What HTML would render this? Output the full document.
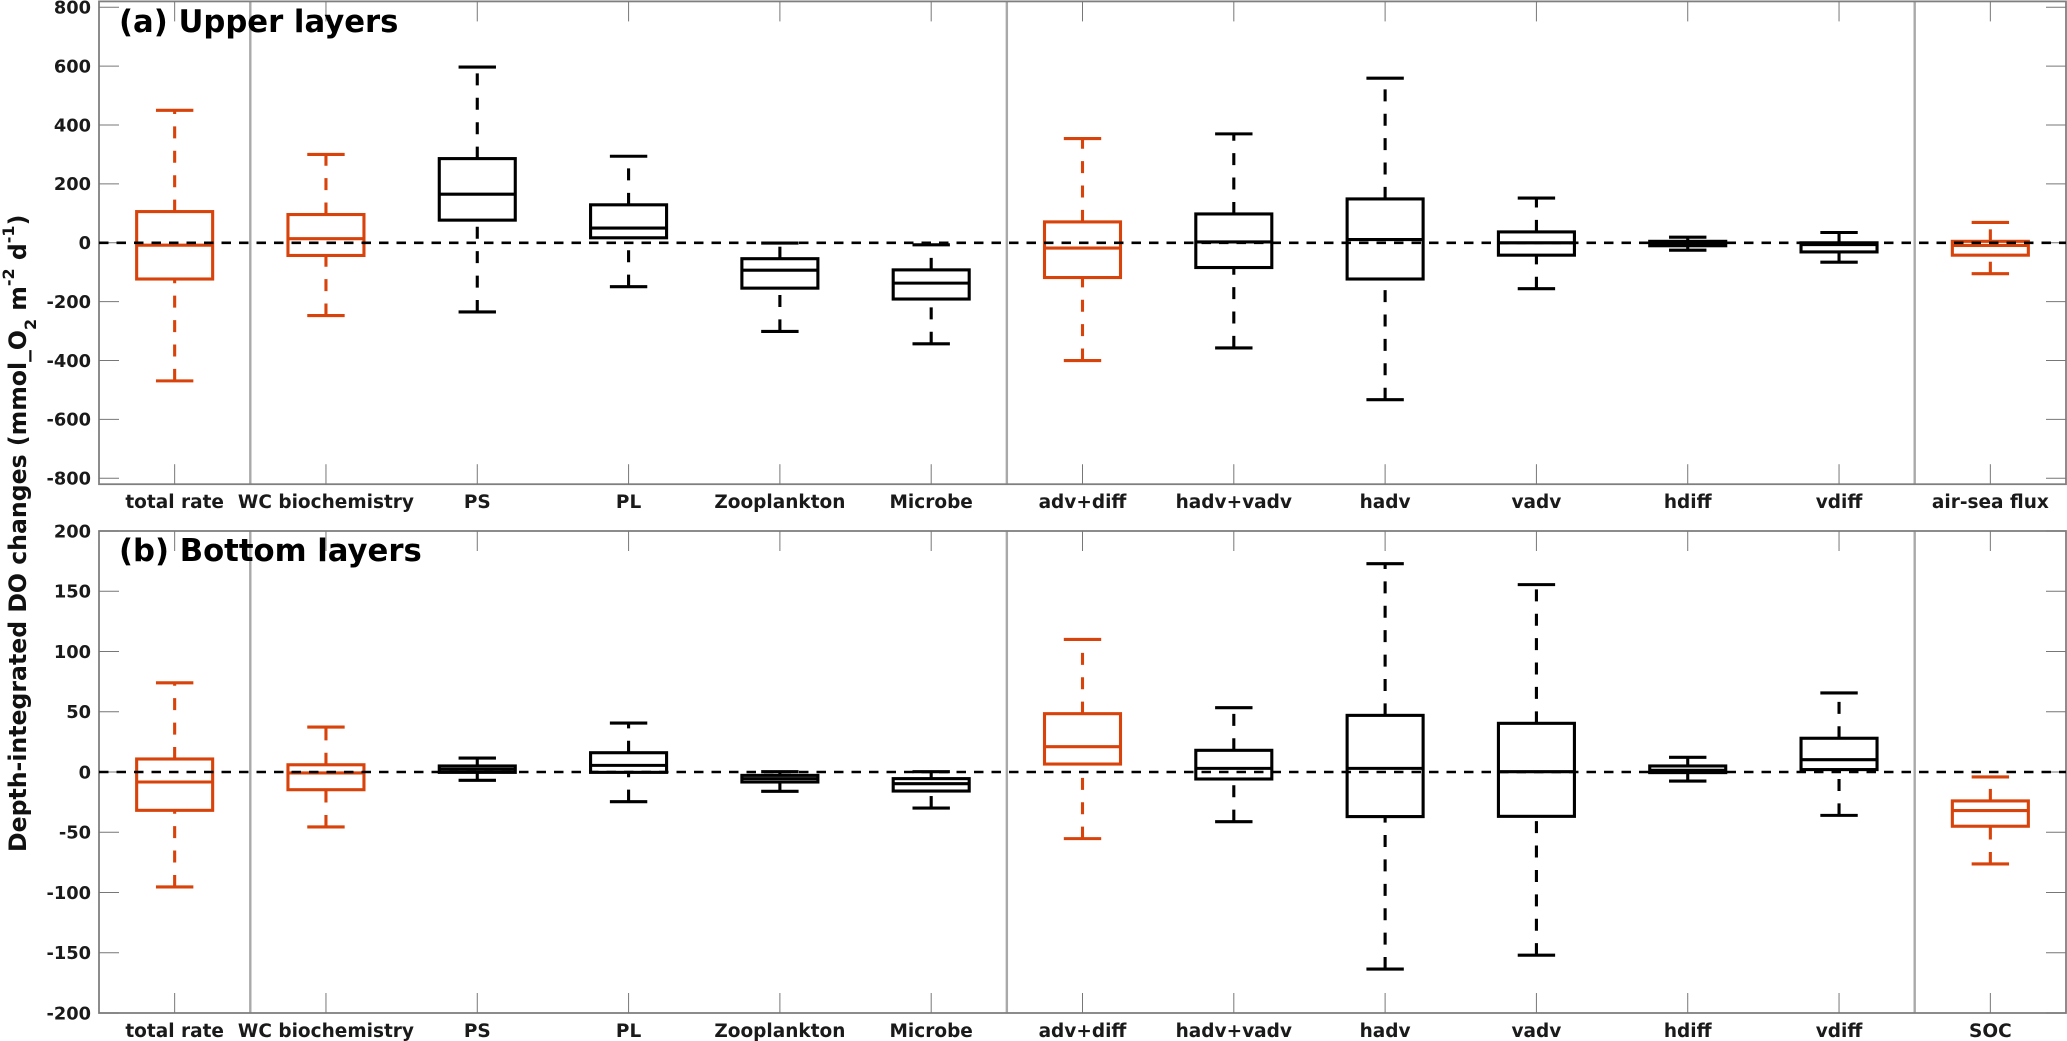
<!DOCTYPE html>
<html lang="en">
<head>
<meta charset="utf-8">
<title>Depth-integrated DO changes</title>
<style>
html,body{margin:0;padding:0;background:#fff;width:2067px;height:1041px;overflow:hidden}
svg{display:block}
text{font-family:"DejaVu Sans","Liberation Sans",sans-serif;font-weight:bold}
</style>
</head>
<body>
<svg id="chart" xmlns="http://www.w3.org/2000/svg" width="2067" height="1041" viewBox="0 0 2067 1041">
  <rect x="0" y="0" width="2067" height="1041" fill="#fff"/>
  <g id="panel-a"></g>
  <g id="panel-b"></g>
  <text x="119" y="32" font-size="30.7" fill="#000">(a) Upper layers</text>
  <text x="119" y="561" font-size="30.7" fill="#000">(b) Bottom layers</text>
  <text transform="translate(26,852) rotate(-90)" font-size="23.6" fill="#111">Depth-integrated DO changes (mmol_O<tspan font-size="16" dy="10">2</tspan><tspan dy="-10"> m</tspan><tspan font-size="16" dy="-12">-2</tspan><tspan dy="12"> d</tspan><tspan font-size="16" dy="-12">-1</tspan><tspan dy="12">)</tspan></text>
</svg>
<script>
const categoriesA = ["total rate","WC biochemistry","PS","PL","Zooplankton","Microbe","adv+diff","hadv+vadv","hadv","vadv","hdiff","vdiff","air-sea flux"];
const lowA    = [-469,-247,-235,-149,-301,-343,-400,-357,-533,-156,-25,-66,-105];
const q1A     = [-123,-43,77,17,-154,-191,-118,-84,-123,-42,-10,-31,-42];
const medianA = [-8,14,165,50,-93,-137,-18,3,11,0,-2,-6,-9];
const q3A     = [106,96,286,129,-54,-92,71,98,149,37,5,0,5];
const highA   = [450,300,597,294,-1,-7,354,370,559,152,19,35,69];
const ticksA  = [-800,-600,-400,-200,0,200,400,600,800];

const categoriesB = ["total rate","WC biochemistry","PS","PL","Zooplankton","Microbe","adv+diff","hadv+vadv","hadv","vadv","hdiff","vdiff","SOC"];
const lowB    = [-95.4,-45.6,-6.9,-24.6,-16,-29.9,-55.3,-41.2,-163.5,-152,-7.5,-36,-76.3];
const q1B     = [-31.8,-14.7,-0.3,-0.3,-8.3,-15.8,6.6,-5.8,-37,-36.8,-0.5,2,-45];
const medianB = [-8.3,-0.8,2.2,5.5,-5.5,-9.7,21,3,3,0.3,1.4,10.2,-32];
const q3B     = [10.8,6,5,16,-2.8,-5.5,48.4,18,47,40.4,5,28,-24];
const highB   = [74,37.3,11.6,40.6,0.3,0.3,110,53.4,172.9,155.5,12.2,65.6,-4.1];
const ticksB  = [-200,-150,-100,-50,0,50,100,150,200];

const highlighted = ["total rate","WC biochemistry","adv+diff","air-sea flux","SOC"];
const separators  = [1.5,6.5,12.5];

const NS = "http://www.w3.org/2000/svg";
const ORANGE = "#d8430b";
const AXIS = "#7f7f7f";
const TICK = "#777";
const LEFT = 99, RIGHT = 2066;

function xScale(pos){ return LEFT + (pos - 0.5) * (RIGHT - LEFT) / 13; }
function makeYScale(domainMax, top, bottom){
  return function(v){ return top + (domainMax - v) * (bottom - top) / (2 * domainMax); };
}
function line(parent, x1, y1, x2, y2, stroke, width, dash){
  const l = document.createElementNS(NS, "line");
  l.setAttribute("x1", x1);
  l.setAttribute("y1", y1);
  l.setAttribute("x2", x2);
  l.setAttribute("y2", y2);
  l.setAttribute("stroke", stroke);
  l.setAttribute("stroke-width", width);
  if (dash) l.setAttribute("stroke-dasharray", dash);
  parent.appendChild(l);
  return l;
}
function label(parent, x, y, str, anchor, size){
  const t = document.createElementNS(NS, "text");
  t.setAttribute("x", x);
  t.setAttribute("y", y);
  t.setAttribute("font-size", size);
  t.setAttribute("fill", "#1a1a1a");
  t.setAttribute("text-anchor", anchor);
  t.textContent = str;
  parent.appendChild(t);
  return t;
}

function drawPanel(root, top, bottom, domainMax, cats, low, q1, med, q3, high, ticks){
  const y = makeYScale(domainMax, top, bottom);

  separators.forEach(function(s){
    const sep = line(root, xScale(s), top, xScale(s), bottom, "#a9a9a9", 2.4);
    
    
  });

  const frame = document.createElementNS(NS, "rect");
  
  
  frame.setAttribute("x", LEFT);
  frame.setAttribute("y", top);
  frame.setAttribute("width", RIGHT - LEFT);
  frame.setAttribute("height", bottom - top);
  frame.setAttribute("fill", "none");
  frame.setAttribute("stroke", AXIS);
  frame.setAttribute("stroke-width", "1.8");
  root.appendChild(frame);

  ticks.forEach(function(v){
    const py = y(v);
    const tl = line(root, LEFT, py, LEFT + 20, py, TICK, 1);
    
    
    const tr = line(root, RIGHT - 20, py, RIGHT, py, TICK, 1);
    
    
    const tx = label(root, 91, py + 6.3, String(v), "end", "17.8");
    
    
  });

  cats.forEach(function(name, i){
    const cx = xScale(i + 1);
    const tb = line(root, cx, bottom - 20, cx, bottom, TICK, 1);
    
    
    const tt = line(root, cx, top, cx, top + 20, TICK, 1);
    
    
    const tx = label(root, cx, bottom + 24, name, "middle", "18.5");
    
    
  });

  cats.forEach(function(name, i){
    const color = highlighted.indexOf(name) >= 0 ? ORANGE : "#000";
    const cx = xScale(i + 1);
    const halfBox = 38, halfCap = 18.7, lw = 3.1;

    const g = document.createElementNS(NS, "g");
    
    
    root.appendChild(g);

    const w1 = line(g, cx, y(low[i]), cx, y(q1[i]), color, lw, "12 12.4");
    
    
    const w2 = line(g, cx, y(q3[i]), cx, y(high[i]), color, lw, "12 12.4");
    
    
    const c1 = line(g, cx - halfCap, y(low[i]), cx + halfCap, y(low[i]), color, lw);
    
    
    const c2 = line(g, cx - halfCap, y(high[i]), cx + halfCap, y(high[i]), color, lw);
    
    

    const box = document.createElementNS(NS, "rect");
    
    
    box.setAttribute("x", cx - halfBox);
    box.setAttribute("y", y(q3[i]));
    box.setAttribute("width", 2 * halfBox);
    box.setAttribute("height", y(q1[i]) - y(q3[i]));
    box.setAttribute("fill", "none");
    box.setAttribute("stroke", color);
    box.setAttribute("stroke-width", lw);
    g.appendChild(box);

    const m = line(g, cx - halfBox, y(med[i]), cx + halfBox, y(med[i]), color, lw);
    
    
  });

  const zero = line(root, LEFT, y(0), RIGHT, y(0), "#000", 2.6, "9.5 8");
  
  
}

drawPanel(document.getElementById("panel-a"), 1.4, 484.2, 820, categoriesA, lowA, q1A, medianA, q3A, highA, ticksA);
drawPanel(document.getElementById("panel-b"), 531, 1013, 200, categoriesB, lowB, q1B, medianB, q3B, highB, ticksB);
</script>
</body>
</html>
